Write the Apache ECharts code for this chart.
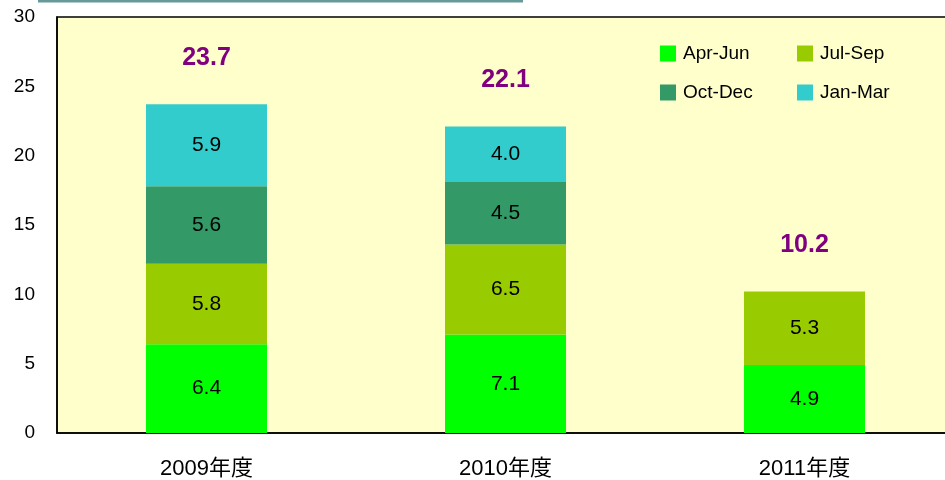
<!DOCTYPE html>
<html>
<head>
<meta charset="utf-8">
<script src="https://cdn.jsdelivr.net/npm/echarts@6/dist/echarts.min.js"></script>
<style>
  html, body { margin: 0; padding: 0; background: #fff; overflow: hidden; }
  /* plot area runs past the right edge of the window, as in the original */
  #chart { width: 954px; height: 480px; }
</style>
</head>
<body>
<div id="chart"></div>
<script>
const categories = ['2009年度', '2010年度', '2011年度']
const aprJun = [6.4, 7.1, 4.9]
const julSep = [5.8, 6.5, 5.3]
const octDec = [5.6, 4.5, null]
const janMar = [5.9, 4.0, null]
const totals = [23.7, 22.1, 10.2]
const yTicks = [0, 5, 10, 15, 20, 25, 30]

const font = 'Liberation Sans, "Noto Sans CJK JP", sans-serif'

const chart = echarts.init(document.getElementById('chart'))

function barSeries (name, data, color) {
    return {
        name: name,
        type: 'bar',
        stack: 'total',
        data: data,
        barWidth: 121,
        itemStyle: { color: color },
        label: {
            show: true,
            position: 'inside',
            color: '#000',
            fontSize: 21,
            fontFamily: font,
            formatter: p => p.value.toFixed(1)
        }
    }
}

function legendAt (name, left, top) {
    return {
        data: [name],
        left: left,
        top: top,
        icon: 'rect',
        itemWidth: 16,
        itemHeight: 16,
        itemGap: 0,
        textStyle: { color: '#000', fontSize: 19, fontFamily: font, padding: [0, 0, 0, 2] }
    }
}

const option = {
    backgroundColor: '#fff',
    animation: false,
    grid: {
        left: 57,
        top: 17,
        right: 0,
        bottom: 47,
        show: true,
        backgroundColor: '#FFFFCC',
        borderColor: '#000',
        borderWidth: 1.5
    },
    legend: [
        legendAt('Apr-Jun', 655, 39),
        legendAt('Jul-Sep', 792, 39),
        legendAt('Oct-Dec', 655, 78),
        legendAt('Jan-Mar', 792, 78)
    ],
    graphic: [
        {
            type: 'line',
            shape: { x1: 38, y1: 1, x2: 523, y2: 1 },
            style: { stroke: '#669999', lineWidth: 3 }
        }
    ],
    xAxis: {
        type: 'category',
        data: categories,
        axisLine: { lineStyle: { color: '#000', width: 1.5 } },
        axisTick: { inside: true, length: 7, lineStyle: { color: '#666', width: 2 } },
        axisLabel: { color: '#000', fontSize: 22, fontFamily: font, margin: 25 }
    },
    yAxis: {
        type: 'value',
        min: yTicks[0],
        max: yTicks[yTicks.length - 1],
        interval: 5,
        splitLine: { show: false },
        axisLine: { show: true, lineStyle: { color: '#000', width: 1.5 } },
        axisTick: { show: false },
        axisLabel: { color: '#000', fontSize: 19, fontFamily: font, margin: 22 }
    },
    series: [
        barSeries('Apr-Jun', aprJun, '#00FF00'),
        barSeries('Jul-Sep', julSep, '#99CC00'),
        barSeries('Oct-Dec', octDec, '#339966'),
        barSeries('Jan-Mar', janMar, '#33CCCC'),
        {
            name: 'total',
            type: 'scatter',
            data: totals,
            symbolSize: 0,
            silent: true,
            itemStyle: { opacity: 1 },
            label: {
                show: true,
                position: 'top',
                offset: [0, -29],
                color: '#800080',
                fontSize: 25,
                fontWeight: 'bold',
                fontFamily: font,
                formatter: p => p.value.toFixed(1)
            }
        }
    ]
}

chart.setOption(option)
</script>
</body>
</html>
